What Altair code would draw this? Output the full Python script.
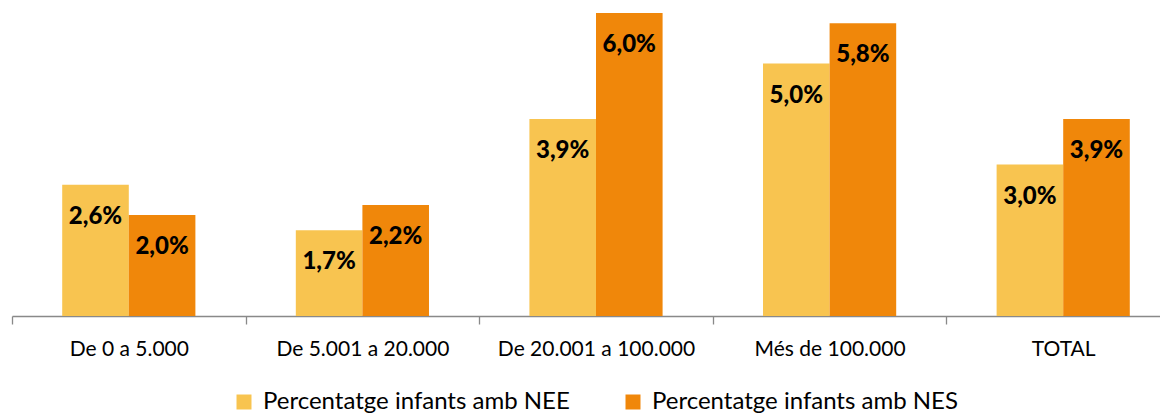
import altair as alt
import pandas as pd

categories = ["De 0 a 5.000", "De 5.001 a 20.000", "De 20.001 a 100.000", "Més de 100.000", "TOTAL"]
series = ["Percentatge infants amb NEE", "Percentatge infants amb NES"]
nee = [2.6, 1.7, 3.9, 5.0, 3.0]
nes = [2.0, 2.2, 6.0, 5.8, 3.9]
colors = ["#F8C450", "#F0870A"]

rows = []
for c, a, b in zip(categories, nee, nes):
    rows.append({"cat": c, "serie": series[0], "val": a})
    rows.append({"cat": c, "serie": series[1], "val": b})
df = pd.DataFrame(rows)
df["label"] = df["val"].map(lambda v: f"{v:.1f}".replace(".", ",") + "%")

x_enc = alt.X("cat:N", sort=categories, title=None,
              scale=alt.Scale(range=[0, 1168], paddingInner=0, paddingOuter=0, round=False),
              axis=alt.Axis(tickBand="extent", domainColor="#898989", tickColor="#898989",
                            domainWidth=1.3, tickWidth=1.3, labelLimit=400,
                            tickSize=8, labelFont="Lato", labelFontSize=21, labelColor="#000000",
                            labelPadding=14, labelAngle=0))
xo_enc = alt.XOffset("serie:N", sort=series,
                     scale=alt.Scale(paddingInner=0, paddingOuter=0.754, round=False))
y_enc = alt.Y("val:Q", scale=alt.Scale(domain=[0, 6.1], nice=False, zero=True), axis=None)

bars = alt.Chart(df).mark_bar().encode(
    x=x_enc, xOffset=xo_enc, y=y_enc,
    color=alt.Color("serie:N", sort=series,
                    scale=alt.Scale(domain=series, range=colors),
                    legend=alt.Legend(title=None, orient="none", direction="horizontal",
                                      legendX=220, legendY=382, padding=0,
                                      symbolType="square", symbolSize=225, symbolStrokeWidth=0,
                                      symbolOpacity=1,
                                      labelFont="Lato", labelFontSize=24, labelColor="#000000",
                                      labelOffset=7, columnPadding=51, labelLimit=500)),
)

labels = alt.Chart(df).mark_text(dy=32, baseline="middle", align="center",
                                 font="Lato", fontWeight=900, fontSize=24, color="#000000").encode(
    x=x_enc, xOffset=xo_enc, y=y_enc, text="label:N"
)

chart = (bars + labels).properties(
    width=1148, height=308,
    autosize=alt.AutoSizeParams(type="none"),
    padding={"left": 4, "top": 0, "right": 0, "bottom": 98},
).configure_view(stroke=None)

chart.save("out.html", embed_options={"renderer": "svg", "actions": False})
